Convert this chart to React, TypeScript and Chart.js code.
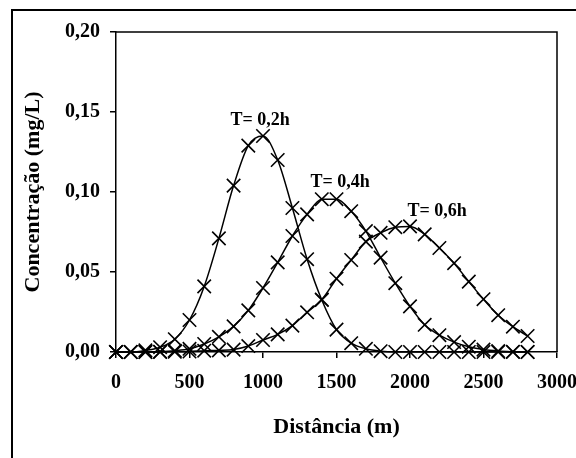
import React, { useEffect, useRef } from "react";
import { Chart, registerables } from "chart.js";

Chart.register(...registerables);

const distances = [
  0, 100, 200, 300, 400, 500, 600, 700, 800, 900, 1000, 1100, 1200, 1300, 1400,
  1500, 1600, 1700, 1800, 1900, 2000, 2100, 2200, 2300, 2400, 2500, 2600, 2700, 2800,
];

const seriesT02 = [
  0, 0, 0.001, 0.003, 0.008, 0.02, 0.041, 0.071, 0.104, 0.129, 0.135, 0.12, 0.09,
  0.058, 0.0325, 0.014, 0.0055, 0.002, 0.0005, 0, 0, 0, 0, 0, 0, 0, 0, 0, 0,
];

const seriesT04 = [
  0, 0, 0, 0.0002, 0.0008, 0.002, 0.005, 0.0095, 0.016, 0.026, 0.04, 0.056, 0.0725,
  0.086, 0.0955, 0.0955, 0.088, 0.0756, 0.059, 0.043, 0.0285, 0.017, 0.0105, 0.0062,
  0.0033, 0.0015, 0.0006, 0.0002, 0,
];

const seriesT06 = [
  0, 0, 0, 0, 0.0001, 0.0003, 0.0008, 0.001, 0.0015, 0.0037, 0.0075, 0.011, 0.0165,
  0.0248, 0.0328, 0.0458, 0.0575, 0.069, 0.0745, 0.078, 0.0785, 0.0735, 0.065, 0.0555,
  0.044, 0.033, 0.023, 0.0158, 0.01,
];

const seriesLabels = ["T= 0,2h", "T= 0,4h", "T= 0,6h"];
const labelAnchorX = [980, 1524, 2184];
const labelAnchorY = [0.145, 0.106, 0.088];

const yTicks = [0, 0.05, 0.1, 0.15, 0.2];
const xTicks = [0, 500, 1000, 1500, 2000, 2500, 3000];

const FONT = "'Liberation Serif', 'Times New Roman', serif";

export default function App() {
  const ref = useRef<HTMLCanvasElement | null>(null);

  useEffect(() => {
    if (!ref.current) return;
    const allSeries = [seriesT02, seriesT04, seriesT06];

    const decor = {
      id: "decor",
      afterDraw(chart: any) {
        const ctx = chart.ctx;
        const a = chart.chartArea;
        ctx.save();
        ctx.strokeStyle = "#000";
        ctx.lineWidth = 2;
        ctx.beginPath();
        ctx.moveTo(12, chart.height + 5);
        ctx.lineTo(12, 10);
        ctx.lineTo(chart.width + 5, 10);
        ctx.stroke();
        ctx.lineWidth = 1.5;
        ctx.beginPath();
        ctx.moveTo(a.left, a.top);
        ctx.lineTo(a.right, a.top);
        ctx.lineTo(a.right, a.bottom);
        ctx.stroke();
        ctx.fillStyle = "#000";
        ctx.font = `bold 18px ${FONT}`;
        ctx.textAlign = "center";
        ctx.textBaseline = "middle";
        const xs = chart.scales.x;
        const ys = chart.scales.y;
        seriesLabels.forEach((t, i) => {
          ctx.fillText(t, xs.getPixelForValue(labelAnchorX[i]), ys.getPixelForValue(labelAnchorY[i]));
        });
        ctx.restore();
      },
    };

    const chart = new Chart(ref.current, {
      type: "scatter",
      data: {
        datasets: allSeries.map((s, i) => ({
          label: seriesLabels[i],
          data: distances.map((d, j) => ({ x: d, y: s[j] })),
          showLine: true,
          borderColor: "#000",
          borderWidth: 1.5,
          cubicInterpolationMode: "monotone" as const,
          pointStyle: "crossRot",
          pointRadius: 9.5,
          pointBorderWidth: 1.6,
          pointBorderColor: "#000",
          pointBackgroundColor: "#000",
          pointHoverRadius: 9.5,
          clip: false as any,
        })),
      },
      options: {
        animation: false,
        responsive: false,
        events: [],
        layout: { autoPadding: false, padding: { top: 32, right: 19, left: 0, bottom: 0 } },
        plugins: {
          legend: { display: false },
          tooltip: { enabled: false },
        },
        scales: {
          x: {
            type: "linear",
            min: 0,
            max: 3000,
            afterFit: (s: any) => {
              s.height = 106;
              s.paddingLeft = 0;
              s.paddingRight = 0;
            },
            afterBuildTicks: (s: any) => {
              s.ticks = xTicks.map((v) => ({ value: v }));
            },
            ticks: {
              color: "#000",
              padding: 13,
              maxRotation: 0,
              font: { family: FONT, size: 20, weight: "bold" },
              callback: (v: any) => String(v),
            },
            grid: {
              display: true,
              drawOnChartArea: false,
              drawTicks: true,
              tickLength: 6,
              color: "#000",
              lineWidth: 1.5,
            },
            border: { display: true, color: "#000", width: 1.5 },
            title: {
              display: true,
              text: "Distância (m)",
              color: "#000",
              font: { family: FONT, size: 22, weight: "bold" },
              padding: { top: 0, bottom: 17 },
            },
          },
          y: {
            type: "linear",
            min: 0,
            max: 0.2,
            afterFit: (s: any) => {
              s.width = 116;
              s.paddingTop = 0;
              s.paddingBottom = 0;
            },
            afterBuildTicks: (s: any) => {
              s.ticks = yTicks.map((v) => ({ value: v }));
            },
            ticks: {
              color: "#000",
              padding: 10,
              font: { family: FONT, size: 20, weight: "bold" },
              callback: (v: any) => Number(v).toFixed(2).replace(".", ","),
            },
            grid: {
              display: true,
              drawOnChartArea: false,
              drawTicks: true,
              tickLength: 6,
              color: "#000",
              lineWidth: 1.5,
            },
            border: { display: true, color: "#000", width: 1.5 },
            title: {
              display: true,
              text: "Concentração (mg/L)",
              color: "#000",
              font: { family: FONT, size: 22, weight: "bold" },
              padding: { top: 20, bottom: 0 },
            },
          },
        },
      },
      plugins: [decor],
    });
    return () => chart.destroy();
  }, []);

  return (
    <div style={{ position: "fixed", left: 0, top: 0, width: 576, height: 458, background: "#fff" }}>
      <canvas ref={ref} width={576} height={458} style={{ display: "block", width: 576, height: 458 }} />
    </div>
  );
}
